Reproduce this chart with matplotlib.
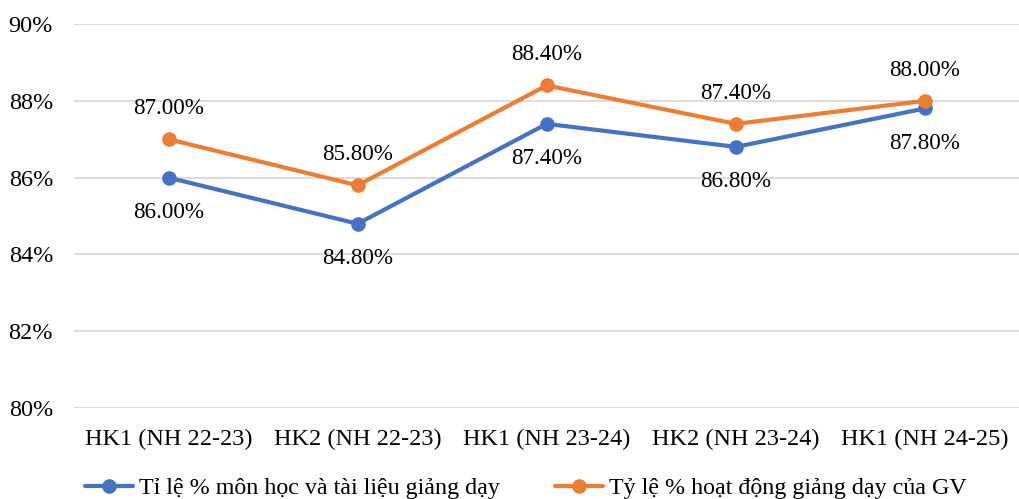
import matplotlib.pyplot as plt
from matplotlib.ticker import FuncFormatter

plt.rcParams['font.family'] = ['Liberation Serif', 'DejaVu Serif']

categories = ['HK1 (NH 22-23)', 'HK2 (NH 22-23)', 'HK1 (NH 23-24)',
              'HK2 (NH 23-24)', 'HK1 (NH 24-25)']
mon_hoc = [86.0, 84.8, 87.4, 86.8, 87.8]
hoat_dong = [87.0, 85.8, 88.4, 87.4, 88.0]
name_mon_hoc = 'Tỉ lệ % môn học và tài liệu giảng dạy'
name_hoat_dong = 'Tỷ lệ % hoạt động giảng dạy của GV'

blue = '#4472C4'
orange = '#ED7D31'

fig = plt.figure(figsize=(10.2, 4.99), dpi=100)
ax = fig.add_axes([0.0725, 0.182, 0.927, 0.77])

x = range(len(categories))
ax.plot(x, mon_hoc, color=blue, lw=3, marker='o', ms=9.5, label=name_mon_hoc,
        solid_capstyle='round', zorder=3)
ax.plot(x, hoat_dong, color=orange, lw=3, marker='o', ms=9.5, label=name_hoat_dong,
        solid_capstyle='round', zorder=3)

for i, v in enumerate(mon_hoc):
    ax.annotate('%.2f%%' % v, (i, v), xytext=(0, -25), textcoords='offset points',
                ha='center', va='center', fontsize=16.7)
for i, v in enumerate(hoat_dong):
    ax.annotate('%.2f%%' % v, (i, v), xytext=(0, 22), textcoords='offset points',
                ha='center', va='center', fontsize=16.7)

ax.set_xlim(-0.5, len(categories) - 0.5)
ax.set_ylim(80, 90)
ax.set_yticks([80, 82, 84, 86, 88, 90])
ax.yaxis.set_major_formatter(FuncFormatter(lambda v, p: '%d%%' % v))
ax.set_xticks(list(x))
ax.set_xticklabels(categories)
ax.tick_params(axis='both', length=0, labelsize=17.5)
ax.tick_params(axis='x', pad=15)
ax.tick_params(axis='y', pad=15)
ax.grid(axis='y', color='#D9D9D9', lw=1.3)
ax.set_axisbelow(True)
for s in ax.spines.values():
    s.set_visible(False)

ax.legend(loc='center', bbox_to_anchor=(0.478, -0.208), ncol=2, frameon=False,
          fontsize=17.3, handlelength=2.0, handletextpad=0.25, columnspacing=2.3,
          borderpad=0)

plt.savefig('out.png', dpi=100)
